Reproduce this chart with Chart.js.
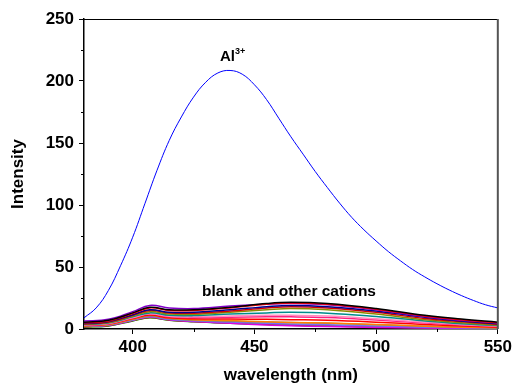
<!DOCTYPE html>
<html lang="en">
<head>
  <meta charset="utf-8">
  <title>Intensity vs wavelength</title>
  <script src="https://cdn.jsdelivr.net/npm/chart.js@4.4.1/dist/chart.umd.min.js"></script>
  <style>
    html, body { margin: 0; padding: 0; background: #fff; }
    #wrap { width: 515px; height: 386px; position: relative; }
  </style>
</head>
<body>
  <div id="wrap"><canvas id="chart"></canvas></div>

  <script>
    // Al3+ spectrum, every 5 nm
    var alWave = [380, 385, 390, 395, 400, 405, 410, 415, 420, 425, 430, 435, 440, 445, 450, 455, 460,
      465, 470, 475, 480, 485, 490, 495, 500, 505, 510, 515, 520, 525, 530, 535, 540, 545, 550];
    var alValues = [9, 17, 31, 51, 74, 101, 128, 152, 171, 187, 199, 206.5, 208.5, 205.5, 197, 185, 170,
      155, 141, 127, 114, 101.5, 90, 80, 71, 62.5, 55, 48, 42, 36.5, 31.5, 27, 23, 19.5, 17];

    // blank and other cations
    var ionWave = [380, 390, 400, 407, 415, 425, 440, 455, 465, 480, 500, 520, 535, 550];
    var ionBlack   = [5.5, 7.0, 13.0, 17.5, 15.5, 15.5, 17.5, 20.5, 21.5, 20.5, 16.5, 11.0, 8.0, 5.5];
    var ionRed     = [5.0, 6.5, 12.5, 17.0, 15.0, 15.0, 17.0, 20.0, 21.0, 20.0, 16.0, 10.5, 7.5, 5.0];
    var ionPurple  = [6.5, 7.8, 14.0, 19.0, 17.0, 16.5, 18.5, 20.0, 20.5, 19.5, 15.5, 10.0, 7.0, 4.8];
    var ionNavy    = [4.5, 6.0, 11.5, 15.5, 13.5, 13.5, 15.5, 18.0, 19.0, 18.0, 14.5, 9.5, 6.5, 4.3];
    var ionRed2    = [4.2, 5.6, 11.0, 15.0, 13.0, 12.8, 14.5, 17.0, 18.0, 17.0, 13.5, 8.5, 6.0, 3.8];
    var ionOlive   = [4.0, 5.2, 10.5, 14.0, 12.0, 11.8, 13.5, 15.5, 16.5, 15.5, 12.0, 7.5, 5.0, 3.3];
    var ionTeal    = [3.6, 4.8, 9.8, 13.0, 11.0, 10.8, 12.0, 13.0, 13.5, 12.8, 10.0, 6.5, 4.3, 2.8];
    var ionPink    = [3.3, 4.5, 9.2, 12.2, 10.2, 9.8, 10.5, 11.0, 11.0, 10.5, 8.2, 5.5, 3.7, 2.4];
    var ionHotpink = [3.0, 4.2, 8.8, 12.0, 9.8, 9.0, 9.5, 9.8, 9.8, 9.2, 7.2, 4.8, 3.2, 2.0];
    var ionRed3    = [2.8, 4.0, 8.4, 11.2, 9.0, 8.2, 8.0, 7.8, 7.5, 7.0, 5.5, 3.6, 2.4, 1.5];
    var ionOrange  = [2.5, 3.6, 8.0, 11.0, 8.8, 7.5, 6.8, 5.8, 5.3, 4.8, 3.6, 2.3, 1.5, 1.0];
    var ionGray    = [2.4, 3.4, 7.6, 10.3, 8.2, 7.0, 6.2, 5.6, 5.2, 4.6, 3.4, 2.2, 1.4, 0.9];
    var ionViolet  = [2.2, 3.2, 7.3, 10.0, 7.8, 6.6, 5.6, 4.6, 4.0, 3.4, 2.4, 1.5, 1.0, 0.6];
    var ionMagenta = [2.0, 3.0, 7.0, 9.6, 7.4, 6.0, 4.6, 3.2, 2.6, 2.0, 1.3, 0.8, 0.5, 0.3];
    var ionBrown   = [1.8, 2.6, 6.8, 9.3, 7.2, 6.0, 5.0, 4.0, 3.5, 2.8, 1.8, 1.0, 0.6, 0.2];
    var ionGreen   = [1.5, 2.5, 6.5, 9.0, 7.0, 5.8, 4.6, 3.6, 3.0, 2.4, 1.6, 0.9, 0.5, 0.3];

    var xTicks = [400, 450, 500, 550];
    var xMinor = [425, 475, 525];
    var yTicks = [0, 50, 100, 150, 200, 250];
    var yMinor = [25, 75, 125, 175, 225];

    function pts(xs, ys) {
      return xs.map(function (x, i) { return { x: x, y: ys[i] }; });
    }

    var ionSets = [
      [ionBlack, '#000000'], [ionRed, '#ff0000'], [ionPurple, '#8000c8'], [ionNavy, '#000090'],
      [ionRed2, '#d40000'], [ionOlive, '#8c8c00'], [ionTeal, '#008c8c'], [ionPink, '#ff8cc0'],
      [ionHotpink, '#ff2080'], [ionRed3, '#ff0000'], [ionOrange, '#ff8000'], [ionGray, '#808080'],
      [ionViolet, '#7070ff'], [ionMagenta, '#e000e0'], [ionBrown, '#a05000'], [ionGreen, '#008000']
    ];

    var datasets = [{
      data: pts(alWave, alValues),
      borderColor: '#0000ff',
      borderWidth: 1
    }];
    ionSets.forEach(function (s) {
      datasets.push({ data: pts(ionWave, s[0]), borderColor: s[1], borderWidth: 1.5 });
    });

    var font = { family: 'Liberation Sans, Arial, sans-serif', weight: 'bold' };

    // minor ticks, frame and the two text labels
    var extras = {
      id: 'extras',
      afterDraw: function (chart) {
        var ctx = chart.ctx, a = chart.chartArea;
        var xs = chart.scales.x, ys = chart.scales.y;
        ctx.save();
        ctx.strokeStyle = '#000';
        ctx.lineWidth = 1;
        ctx.beginPath();
        xMinor.forEach(function (v) {
          var px = Math.round(xs.getPixelForValue(v)) + 0.5;
          ctx.moveTo(px, a.bottom); ctx.lineTo(px, a.bottom + 3);
        });
        yMinor.forEach(function (v) {
          var py = Math.round(ys.getPixelForValue(v)) + 0.5;
          ctx.moveTo(a.left, py); ctx.lineTo(a.left - 3, py);
        });
        ctx.moveTo(a.left, a.top + 0.5); ctx.lineTo(a.right, a.top + 0.5);
        ctx.stroke();
        ctx.strokeStyle = '#555';
        ctx.lineWidth = 2;
        ctx.beginPath();
        ctx.moveTo(a.right, a.top); ctx.lineTo(a.right, a.bottom);
        ctx.stroke();

        ctx.fillStyle = '#000';
        ctx.textBaseline = 'alphabetic';
        ctx.font = 'bold 15px Liberation Sans, Arial, sans-serif';
        ctx.textAlign = 'left';
        ctx.fillText('Al', 220, 61);
        var w = ctx.measureText('Al').width;
        ctx.font = 'bold 9px Liberation Sans, Arial, sans-serif';
        ctx.fillText('3+', 220 + w, 54);

        ctx.font = 'bold 15.5px Liberation Sans, Arial, sans-serif';
        ctx.textAlign = 'center';
        ctx.fillText('blank and other cations', 289, 296);
        ctx.restore();
      }
    };

    new Chart(document.getElementById('chart'), {
      type: 'line',
      data: { datasets: datasets },
      options: {
        responsive: true,
        maintainAspectRatio: false,
        animation: false,
        events: [],
        layout: { padding: { left: 0, right: 15, top: 19, bottom: 0 } },
        elements: {
          point: { radius: 0 },
          line: { tension: 0.4, fill: false }
        },
        plugins: { legend: { display: false }, tooltip: { enabled: false } },
        scales: {
          x: {
            type: 'linear',
            min: 380, max: 550,
            afterBuildTicks: function (s) { s.ticks = xTicks.map(function (v) { return { value: v }; }); },
            afterFit: function (s) { s.height = 57; },
            grid: { drawOnChartArea: false, drawTicks: true, tickLength: 5, color: '#000' },
            border: { color: '#000', width: 1.5 },
            ticks: { color: '#000', font: Object.assign({ size: 17 }, font), padding: 3, maxRotation: 0 },
            title: { display: true, text: 'wavelength (nm)', color: '#000',
              font: Object.assign({ size: 17 }, font), padding: { top: 0, bottom: 0 } }
          },
          y: {
            min: 0, max: 250,
            afterBuildTicks: function (s) { s.ticks = yTicks.map(function (v) { return { value: v }; }); },
            afterFit: function (s) { s.width = 84; },
            grid: { drawOnChartArea: false, drawTicks: true, tickLength: 5, color: '#000' },
            border: { color: '#000', width: 1.5 },
            ticks: { color: '#000', font: Object.assign({ size: 17 }, font), padding: 5 },
            title: { display: true, text: 'Intensity', color: '#000',
              font: Object.assign({ size: 17 }, font), padding: { top: 8, bottom: 0 } }
          }
        }
      },
      plugins: [extras]
    });
  </script>
</body>
</html>
